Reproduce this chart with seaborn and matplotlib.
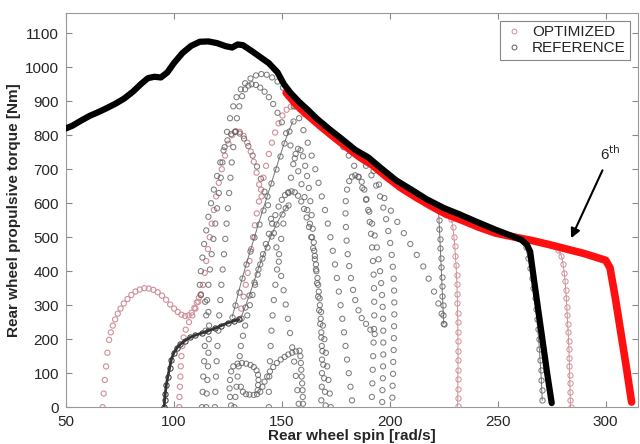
import matplotlib
matplotlib.use('Agg')
import matplotlib.pyplot as plt
import seaborn as sns
from matplotlib.lines import Line2D

# thick envelope curves (dense markers in the original)
ref_env_x = [50, 53, 57, 61, 65, 69, 73, 77, 81, 85, 88, 91, 94, 97, 100, 104, 108, 112, 116, 120, 124, 127,
             129.5, 132, 136, 140, 144, 148, 151, 154, 158, 162, 166, 172, 178, 184, 190, 196, 203, 210, 217,
             225, 232, 240, 249, 256, 261, 263.5, 265, 267, 269, 271, 273, 275]
ref_env_y = [820, 828, 843, 857, 868, 880, 893, 908, 928, 952, 968, 972, 970, 985, 1012, 1042, 1063, 1075, 1076,
             1071, 1062, 1058, 1067, 1065, 1048, 1030, 1012, 985, 950, 925, 898, 875, 850, 818, 788, 757, 735,
             703, 667, 640, 612, 586, 568, 546, 522, 505, 492, 478, 458, 365, 275, 185, 95, 12]
opt_env_x = [152, 156, 160, 164, 168, 174, 180, 186, 192, 198, 205, 212, 219, 226, 233, 241, 249, 258, 266, 274,
             282, 290, 296, 300, 302, 304.5, 307, 309.5, 312]
opt_env_y = [925, 895, 870, 848, 826, 795, 765, 736, 712, 680, 646, 618, 592, 568, 551, 530, 512, 500, 490, 478,
             465, 452, 440, 432, 410, 320, 220, 120, 15]

# REFERENCE circle traces
ref_a_x = [113, 113.3, 113.6, 114, 114.3, 114.7, 115, 115.4, 116, 116.7, 117.5, 118.3, 119.2, 120, 120.8, 121.7,
           122.5, 123.5, 124.6, 126, 127.5, 129, 131, 133, 135.5, 138, 140.5, 143, 145.5, 148, 150.5, 153, 155.5,
           158, 160, 162, 163.8, 165.5, 167, 168.5, 170, 171.3, 172.5, 173.6, 174.6, 175.5, 176.4, 177.2, 178,
           178.8, 179.5, 180.2, 181, 181.8, 182.5]
ref_a_y = [0, 45, 90, 135, 180, 225, 270, 315, 360, 405, 450, 495, 540, 585, 630, 675, 720, 765, 810, 850, 885,
           912, 935, 953, 967, 976, 980, 978, 970, 958, 940, 915, 885, 850, 815, 778, 740, 700, 660, 620, 580, 540,
           500, 460, 420, 380, 340, 300, 260, 220, 180, 140, 100, 60, 20]
ref_b_x = [119, 119.2, 119.5, 119.8, 120.2, 120.6, 121, 121.5, 122, 122.6, 123.2, 123.8, 124.4, 125, 125.6, 126.2,
           126.8, 127.5, 128.3, 129.2, 130.3, 131.6, 133, 134.5, 136, 138, 140, 142, 144, 146, 148, 150, 152, 154,
           156, 157.6, 159.1, 160.5, 161.8, 163, 164, 165, 165.8, 166.5, 167.1, 167.6, 168, 168.3, 168.5, 168.6,
           168.6, 168.5, 168.3]
ref_b_y = [0, 45, 90, 135, 180, 225, 270, 315, 360, 405, 450, 495, 540, 585, 630, 675, 720, 765, 810, 850, 885,
           915, 935, 946, 950, 948, 940, 928, 912, 892, 866, 838, 806, 770, 732, 694, 656, 618, 580, 540, 500, 460,
           420, 380, 340, 300, 260, 220, 180, 140, 100, 60, 20]
ref_c_x = [115, 115.2, 115.5, 115.8, 116, 116.2, 116.3, 116, 114.5, 112.5, 112, 112.5, 113.2, 114, 115, 116, 117.2,
           118.5, 120, 121.5, 123, 124.8, 126.5, 128.5, 130.5, 132.5, 134.5, 136.5, 138.5, 140.3, 142, 143.6, 145,
           146.3, 147.5, 148.6, 149.7, 150.8, 151.8, 152.8, 153.8, 154.8, 155.7, 156.5, 157.2, 157.8]
ref_c_y = [0, 40, 80, 120, 160, 200, 240, 280, 310, 330, 360, 400, 440, 480, 520, 560, 600, 640, 680, 720, 755,
           785, 803, 810, 805, 790, 768, 740, 708, 672, 634, 594, 554, 512, 470, 428, 386, 344, 302, 260, 218, 176,
           134, 92, 50, 10]
ref_d_x = [144, 144, 144.2, 144.5, 144.8, 145.2, 145.7, 146.3, 147, 147.8, 148.7, 149.7, 150.7, 151.8, 153, 154.2,
           155.3, 156.4, 157.5, 158.7, 159.8, 160.8, 161.7, 162.5, 163.2, 163.8, 164.3, 164.8, 165.3, 165.8, 166.3,
           166.8, 167.3, 167.8, 168.3, 168.8, 169.2, 169.6, 170, 170.3]
ref_d_y = [0, 45, 90, 135, 180, 225, 270, 315, 360, 405, 450, 495, 540, 585, 630, 675, 715, 745, 760, 756, 738,
           710, 680, 645, 606, 565, 525, 485, 445, 405, 365, 325, 285, 245, 205, 165, 125, 85, 45, 5]
ref_e_x = [128, 128.5, 129, 129.5, 130, 130.5, 131, 132, 133, 134, 135.2, 136.4, 137.6, 138.8, 140, 141.3, 142.6,
           144, 145.5, 147, 148.5, 150, 151.5, 153, 154.5, 156, 157.5, 159, 160.3, 161.5, 162.6, 163.6, 164.5,
           165.3, 166, 166.8, 167.5, 168.2, 169, 169.7, 170.4, 171, 171.6, 172.2, 172.7]
ref_e_y = [0, 30, 60, 90, 120, 150, 180, 210, 240, 270, 300, 330, 360, 390, 420, 450, 480, 510, 540, 565, 590, 610,
           624, 632, 635, 632, 622, 605, 583, 558, 530, 500, 468, 435, 400, 360, 320, 280, 240, 200, 160, 120, 80,
           40, 0]
ref_f_x = [193, 191, 189, 187, 185.5, 184, 183, 182, 181.2, 180.5, 180, 179.7, 179.5, 179.6, 180.2, 181.2, 182.5,
           184, 185.5, 187, 188.2, 189.2, 190, 190.7, 191.3, 191.8, 192.2, 192.5, 192.7, 192.8, 192.8, 192.7, 192.5,
           192.3, 192.1, 191.9, 191.7]
ref_f_y = [215, 228, 245, 262, 285, 315, 345, 380, 415, 450, 490, 530, 570, 606, 640, 665, 678, 682, 677, 663, 640,
           612, 580, 545, 510, 470, 430, 390, 350, 310, 270, 230, 190, 150, 110, 70, 30]
ref_g_x = [176, 178.5, 181, 183.5, 185.5, 187.3, 189, 190.5, 191.8, 193, 194, 194.8, 195.5, 196, 196.4, 196.7,
           196.9, 197, 197, 197, 196.9, 196.8, 196.6, 196.5]
ref_g_y = [785, 765, 740, 710, 678, 645, 610, 575, 540, 505, 470, 435, 400, 365, 330, 295, 260, 225, 190, 155, 120,
           85, 50, 15]
ref_h_x = [183, 186, 189, 191.5, 193.7, 195.5, 197, 198.3, 199.3, 200.2, 200.9, 201.4, 201.8, 202, 202.1, 202.1,
           202, 201.9, 201.8, 201.6, 201.5, 201.3, 201.2]
ref_h_y = [755, 735, 710, 682, 652, 620, 587, 553, 518, 483, 448, 413, 378, 343, 308, 273, 238, 203, 168, 133, 98,
           63, 28]
ref_i_x = [190, 192.5, 195, 197.5, 200.5, 203.5, 206.5, 209.5, 212.5, 215.5, 218, 220.5, 222.5, 224, 225]
ref_i_y = [730, 695, 655, 615, 578, 545, 512, 480, 448, 414, 378, 340, 305, 275, 245]
ref_loop_x = [126.5, 126, 125.8, 126, 126.5, 127.5, 129.5, 131.5, 133.5, 135.5, 137, 138.3, 139, 139.2, 139, 138.8,
              138.5, 137, 135, 133.4, 132, 131]
ref_loop_y = [5, 30, 55, 80, 105, 120, 128, 130, 128, 124, 118, 108, 95, 80, 65, 50, 38, 36, 37, 38, 45, 60]
ref_small_x = [140, 141, 142, 143.2, 144.5, 146, 147.7, 149.5, 151.3, 153, 154.8, 156.5, 158.2, 158.6, 158.8, 159,
               159.2, 159.4, 159.6, 159.7, 159.8]
ref_small_y = [45, 60, 75, 90, 105, 118, 130, 140, 148, 155, 160, 164, 166, 150, 130, 110, 90, 70, 50, 30, 10]

# dense REFERENCE chains
ref_j_x = [222.5, 222.8, 223, 223.2, 223.4, 223.6, 223.8, 224, 224.2, 224.4, 224.6, 224.8, 225]
ref_j_y = [580, 552, 524, 496, 468, 440, 412, 384, 356, 328, 300, 272, 245]
ref_k_x = [263, 264, 265, 265.8, 266.5, 267.1, 267.6, 268.1, 268.5, 268.9, 269.3, 269.6, 269.9, 270.2, 270.4, 270.6]
ref_k_y = [470, 440, 410, 380, 350, 320, 290, 260, 230, 200, 170, 140, 110, 80, 50, 20]
ref_dense1_x = [131, 133, 135, 137, 139, 141, 143, 145, 147.5, 150, 153]
ref_dense1_y = [262, 295, 330, 368, 405, 440, 472, 503, 538, 568, 595]
ref_dense2_x = [127, 128.5, 130, 131.7, 133.5, 135.4, 137.3, 139.2, 141.2, 143.2, 145.2, 147.2, 149.2, 151.2,
                153.2, 155.2]
ref_dense2_y = [265, 300, 340, 380, 420, 460, 500, 540, 580, 620, 660, 700, 740, 778, 812, 842]
ref_dark_x = [95.5, 95.7, 96, 96.5, 97.2, 98, 98.8, 100, 101.5, 103, 105, 107.5, 110, 113, 116, 119, 122, 125, 128,
              130]
ref_dark_y = [0, 20, 40, 65, 90, 115, 140, 160, 175, 185, 195, 205, 212, 218, 225, 232, 240, 248, 254, 258]

# OPTIMIZED circle traces
opt_a_x = [67, 67.5, 68, 68.6, 69.2, 70, 70.8, 71.7, 72.8, 74, 75.3, 76.8, 78.5, 80.3, 82.2, 84.2, 86.3, 88.4, 90.5,
           92.5, 94.5, 96.4, 98.3, 100.1, 101.8, 103.5, 105.2, 106.8, 108.2, 109.5, 110.6, 111.6, 112.5]
opt_a_y = [0, 40, 80, 120, 160, 198, 220, 240, 258, 275, 290, 305, 318, 330, 340, 346, 350, 349, 345, 338, 328, 316,
           302, 290, 280, 272, 268, 270, 278, 292, 308, 322, 332]
opt_b_x = [102.5, 102.6, 102.8, 103, 103.2, 103.5, 103.9, 104.5, 105.5, 107, 108.5, 110, 111.3, 112.5, 113.5, 114.3,
           115, 115.8, 116.6, 117.5, 118.5, 119.6, 120.8, 122.2, 123.7, 125.3, 127, 128.7, 130.5, 132.3, 134, 135.6,
           137, 138.3, 139.5, 140.6]
opt_b_y = [0, 30, 60, 90, 120, 150, 180, 205, 228, 250, 270, 290, 310, 330, 360, 395, 430, 465, 500, 540, 580, 620,
           660, 700, 740, 775, 800, 812, 810, 798, 778, 752, 722, 690, 655, 620]
opt_c_x = [130, 131.2, 132.3, 133.3, 134.2, 135, 135.8, 136.6, 137.5, 138.4, 139.4, 140.4, 141.5, 142.7, 144, 145.4,
           146.9, 148.5, 150.3, 152.2, 154.2, 156.3, 158.4, 160.5]
opt_c_y = [258, 290, 325, 360, 395, 430, 465, 500, 535, 570, 605, 640, 675, 710, 745, 778, 808, 835, 858, 875, 884,
           884, 876, 862]
opt_d_x = [227.5, 228.5, 229.2, 229.7, 230.1, 230.4, 230.7, 230.9, 231.1, 231.2, 231.3, 231.4, 231.5, 231.5, 231.6,
           231.6, 231.6, 231.6, 231.5, 231.5, 231.5, 231.4]
opt_d_y = [578, 555, 530, 502, 474, 446, 418, 390, 362, 334, 306, 278, 250, 222, 194, 166, 138, 110, 82, 54, 26, 2]
opt_e_x = [276, 278, 279.5, 280.3, 280.8, 281.2, 281.5, 281.8, 282, 282.2, 282.4, 282.6, 282.8, 283, 283.1, 283.2,
           283.3, 283.4, 283.5, 283.6, 283.7]
opt_e_y = [478, 462, 445, 420, 395, 370, 345, 320, 295, 270, 245, 220, 195, 170, 145, 120, 95, 70, 45, 20, 0]

GRAY = '#5e5e5e'
PINK = '#cf8f99'

sns.set_style('ticks')
plt.rcParams['font.family'] = ['Liberation Sans', 'DejaVu Sans']
plt.rcParams['xtick.direction'] = 'in'
plt.rcParams['ytick.direction'] = 'in'

fig = plt.figure(figsize=(6.4, 4.44), dpi=100)
ax = fig.add_axes([0.103, 0.083, 0.894, 0.888])

# sparse circle traces
ref_traces = [(ref_a_x, ref_a_y), (ref_b_x, ref_b_y), (ref_c_x, ref_c_y), (ref_d_x, ref_d_y), (ref_e_x, ref_e_y),
              (ref_f_x, ref_f_y), (ref_g_x, ref_g_y), (ref_h_x, ref_h_y), (ref_i_x, ref_i_y),
              (ref_loop_x, ref_loop_y), (ref_small_x, ref_small_y)]
opt_traces = [(opt_a_x, opt_a_y), (opt_b_x, opt_b_y), (opt_c_x, opt_c_y)]
for xs, ys in opt_traces:
    sns.scatterplot(x=xs, y=ys, ax=ax, marker='o', s=14, facecolor='none', edgecolor=PINK, linewidth=0.8,
                    zorder=2)
for xs, ys in ref_traces:
    sns.scatterplot(x=xs, y=ys, ax=ax, marker='o', s=14, facecolor='none', edgecolor=GRAY, linewidth=0.75,
                    alpha=0.8, zorder=2)

# dense chains
for xs, ys in [(ref_j_x, ref_j_y), (ref_k_x, ref_k_y), (ref_dense1_x, ref_dense1_y), (ref_dense2_x, ref_dense2_y)]:
    sns.lineplot(x=xs, y=ys, ax=ax, sort=False, estimator=None, color=GRAY, lw=0.7, marker='o', ms=3.8,
                 mfc='none', mec=GRAY, mew=0.7, alpha=0.85, zorder=3)
for xs, ys in [(opt_d_x, opt_d_y), (opt_e_x, opt_e_y)]:
    sns.lineplot(x=xs, y=ys, ax=ax, sort=False, estimator=None, color=PINK, lw=0.7, marker='o', ms=3.8,
                 mfc='none', mec=PINK, mew=0.7, zorder=3)
sns.lineplot(x=ref_dark_x, y=ref_dark_y, ax=ax, sort=False, estimator=None, color='#333333', lw=2.0,
             marker='o', ms=3.8, mfc='none', mec='#333333', mew=0.7, zorder=3)

# envelopes
sns.lineplot(x=opt_env_x, y=opt_env_y, ax=ax, sort=False, estimator=None, color='#ff1010', lw=5.5, zorder=4)
sns.lineplot(x=ref_env_x, y=ref_env_y, ax=ax, sort=False, estimator=None, color='black', lw=4.5, zorder=5)

ax.annotate('6$^{\\mathrm{th}}$', xy=(284, 497), xytext=(302, 745), ha='center', va='center', fontsize=11,
            arrowprops=dict(arrowstyle='-|>', color='black', lw=1.5, mutation_scale=14, shrinkA=3, shrinkB=0))

handles = [Line2D([], [], ls='none', marker='o', ms=3.5, mfc='none', mec=PINK, mew=0.7),
           Line2D([], [], ls='none', marker='o', ms=3.5, mfc='none', mec=GRAY, mew=0.7)]
leg = ax.legend(handles, ['OPTIMIZED', 'REFERENCE'], loc='upper right', fontsize=11, fancybox=False,
                framealpha=1, edgecolor='#888888', borderpad=0.3, handlelength=1.2, handletextpad=0.6,
                labelspacing=0.15, borderaxespad=0.5)
leg.get_frame().set_linewidth(0.8)

ax.set_xlim(50, 315)
ax.set_ylim(0, 1160)
ax.set_xticks([50, 100, 150, 200, 250, 300])
ax.set_yticks(range(0, 1101, 100))
ax.tick_params(top=True, right=True, labelsize=11, length=4, width=0.8, color='#888888')
ax.tick_params(axis='x', pad=6)
ax.tick_params(axis='y', pad=5)
for sp in ax.spines.values():
    sp.set_color('#999999')
    sp.set_linewidth(0.8)
ax.set_xlabel('Rear wheel spin [rad/s]', fontsize=11, fontweight='bold', labelpad=0)
ax.set_ylabel('Rear wheel propulsive torque [Nm]', fontsize=11, fontweight='bold', labelpad=3)

fig.savefig('out.png', dpi=100)
